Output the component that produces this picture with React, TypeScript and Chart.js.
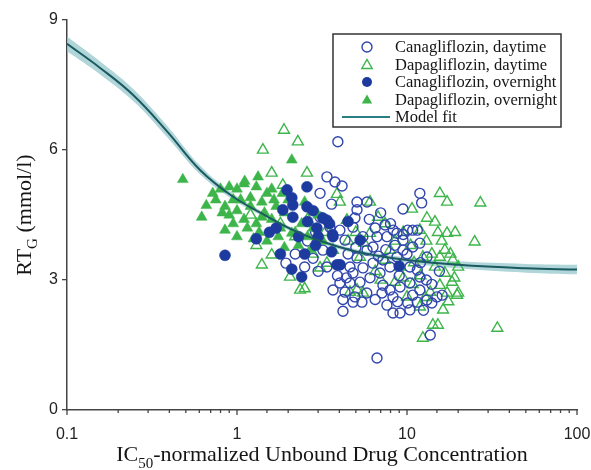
import React, { useEffect, useRef } from 'react';
import { Chart, registerables } from 'chart.js';
Chart.register(...registerables);

// ---- data ----
const xTickLabels = ['0.1', '1', '10', '100'];
const yTickValues = [0, 3, 6, 9];

const fitX = [0.1, 0.156, 0.245, 0.39, 0.606, 0.95, 1.5, 2.14, 3, 5, 10, 20, 50, 100];
const fitY = [8.45, 7.9, 7.27, 6.42, 5.54, 4.92, 4.47, 4.15, 3.92, 3.66, 3.46, 3.35, 3.27, 3.24];
const bandUpper = [8.62, 8.05, 7.41, 6.55, 5.64, 4.99, 4.52, 4.2, 3.97, 3.71, 3.52, 3.43, 3.37, 3.35];
const bandLower = [8.28, 7.75, 7.13, 6.29, 5.44, 4.85, 4.42, 4.1, 3.87, 3.61, 3.4, 3.27, 3.17, 3.13];

const canaNight: [number, number][] = [
  [0.85, 3.57], [1.3, 3.95], [1.55, 4.1], [1.8, 3.6], [2.1, 3.25], [2.4, 3.07], [1.97, 5.08], [2.58, 5.15],
  [2.1, 4.9], [2.13, 4.73], [2.58, 4.69], [2.8, 4.6], [3.2, 4.43], [3.5, 4.3], [3.65, 4.05], [2.95, 4.2],
  [2.6, 4.35], [2.13, 4.45], [1.86, 4.62], [5.3, 3.92], [3.0, 4.0], [3.38, 4.38], [3.67, 4.0], [4.03, 3.35],
  [3.87, 3.35], [3.6, 3.65], [9.0, 3.32], [2.3, 4.0], [1.7, 4.2], [2.9, 3.8], [4.5, 4.35], [2.5, 3.6],
];

const dapaNight: [number, number][] = [
  [0.48, 5.32], [0.62, 4.45], [0.66, 4.72], [0.85, 4.15], [0.72, 5.0], [0.8, 5.1], [0.9, 5.15], [0.95, 4.85],
  [1.0, 5.1], [1.1, 5.22], [1.2, 4.9], [1.3, 5.15], [1.4, 4.8], [1.5, 5.0], [0.85, 4.7], [0.9, 4.5],
  [1.0, 4.6], [1.1, 4.4], [1.2, 4.7], [1.3, 4.3], [1.45, 4.55], [1.6, 4.4], [1.7, 4.7], [1.8, 4.2],
  [1.9, 4.55], [2.1, 5.77], [2.2, 4.1], [2.4, 4.3], [2.6, 4.0], [1.5, 3.9], [1.75, 4.0], [1.9, 3.75],
  [2.3, 3.8], [2.8, 4.2], [3.0, 4.5], [3.2, 3.9], [2.1, 4.08], [1.0, 4.0], [1.15, 4.2], [1.25, 3.95],
  [1.6, 5.1], [1.85, 5.0], [2.5, 4.8], [0.75, 4.85], [0.82, 4.55], [0.95, 4.3], [1.35, 4.1], [2.7, 3.7],
  [1.05, 4.85], [1.65, 4.85], [2.0, 4.85], [1.4, 4.45], [1.33, 5.38], [1.11, 5.28],
];

const canaDay: [number, number][] = [
  [3.92, 6.19], [3.38, 5.38], [3.77, 5.26], [4.15, 5.17], [3.08, 5.0], [3.6, 4.75], [11.9, 5.0], [12.2, 4.78],
  [9.47, 4.64], [5.08, 4.8], [5.82, 4.8], [5.08, 4.62], [4.94, 4.43], [4.81, 4.22], [7.43, 4.27], [8.73, 4.08],
  [10.1, 4.15], [11.5, 4.15], [9.47, 3.92], [7.62, 4.0], [6.66, 4.0], [6.31, 3.76], [5.82, 3.69], [5.08, 3.51],
  [4.62, 3.3], [4.81, 3.16], [5.51, 3.28], [6.31, 3.39], [7.22, 3.46], [7.94, 3.3], [6.94, 3.16], [6.06, 3.05],
  [5.29, 2.95], [4.62, 2.93], [4.03, 2.93], [3.67, 2.77], [4.32, 2.72], [4.94, 2.61], [4.81, 2.49], [5.43, 2.49],
  [4.2, 2.28], [7.22, 2.88], [7.94, 2.77], [7.13, 2.7], [8.27, 2.61], [7.62, 2.42], [8.27, 2.24], [9.1, 2.24],
  [10.4, 2.31], [10.1, 2.47], [11.5, 2.49], [11.9, 2.77], [13.1, 2.54], [14.0, 2.47], [9.1, 2.84], [10.4, 2.93],
  [11.9, 3.07], [11.5, 3.23], [10.4, 3.3], [8.73, 3.53], [9.47, 3.69], [10.8, 3.76], [11.9, 3.85], [13.1, 3.53],
  [3.2, 3.69], [3.38, 3.3], [4.03, 3.35], [3.08, 4.45], [3.52, 4.22], [4.03, 4.15], [4.32, 3.92], [6.66, 1.2],
  [13.7, 1.73], [15.0, 2.61], [16.1, 2.65], [1.94, 3.39], [2.2, 3.6], [2.5, 3.3], [2.8, 3.5], [3.0, 3.2],
  [2.6, 3.9], [2.9, 4.1], [6.0, 4.4], [7.0, 4.55], [8.0, 4.3], [6.5, 4.2], [8.5, 3.8], [5.5, 4.0],
  [4.5, 3.6], [5.0, 3.75], [6.8, 3.55], [7.5, 3.7], [9.0, 3.1], [10, 3.6], [12, 3.4], [13, 3.0],
  [14, 2.9], [8.8, 2.5], [6.5, 2.55], [5.8, 2.7], [4.2, 2.55], [3.9, 3.1], [4.4, 3.05], [12.5, 2.3],
  [10.8, 2.65], [15.5, 3.2], [10.8, 4.15], [8.3, 4.15], [9.5, 4.05],
];

const dapaDay: [number, number][] = [
  [1.89, 6.46], [1.42, 6.0], [2.28, 6.19], [2.58, 5.47], [1.6, 5.47], [1.86, 5.19], [3.87, 4.98], [15.6, 5.0],
  [17.2, 4.8], [27, 4.78], [10.7, 4.64], [13.1, 4.43], [14.6, 4.34], [6.76, 4.45], [25, 3.88], [15.2, 4.1],
  [17.2, 4.08], [19.2, 4.1], [11.9, 4.15], [16.7, 3.69], [15.6, 3.53], [18.6, 3.46], [14.6, 3.3], [16.7, 3.16],
  [18.4, 2.95], [15.6, 2.88], [19.7, 2.65], [17.2, 2.7], [13.7, 2.72], [10, 2.61], [11.9, 2.38], [16.3, 2.31],
  [14.2, 1.96], [15.2, 1.96], [12.4, 1.66], [34, 1.89], [7.43, 4.3], [6.06, 4.08], [4.43, 4.38], [4.03, 4.8],
  [6.06, 4.8], [3.67, 3.69], [3.38, 3.39], [3.08, 3.28], [5.29, 3.53], [5.08, 2.77], [4.62, 2.72], [5.51, 2.7],
  [7.94, 3.69], [7.43, 3.46], [9.1, 3.3], [12.4, 3.53], [1.4, 3.35], [1.6, 3.58], [2.05, 3.07], [2.35, 2.77],
  [2.5, 2.8], [2.2, 4.0], [2.6, 4.4], [3.0, 3.9], [3.3, 4.1], [2.8, 3.6], [1.8, 4.3], [1.2, 4.5],
  [1.3, 3.8], [4.5, 3.9], [5.0, 4.1], [5.6, 3.85], [8.5, 3.9], [9.5, 4.1], [10.5, 3.8], [11, 3.4],
  [12, 3.1], [13, 3.9], [14, 3.6], [8.5, 2.95], [9.5, 3.05], [6.5, 3.2], [7, 3.0], [10.8, 2.9],
  [12.8, 2.6], [16, 3.9], [18, 3.6], [20, 3.3], [17.5, 2.5], [19, 3.05], [20, 2.7],
];

const legendLabels = [
  'Canagliflozin, daytime',
  'Dapagliflozin, daytime',
  'Canagliflozin, overnight',
  'Dapagliflozin, overnight',
  'Model fit',
];
const xTitleMain = 'IC';
const xTitleSub = '50';
const xTitleRest = '-normalized Unbound Drug Concentration';
const yTitleMain = 'RT';
const yTitleSub = 'G';
const yTitleRest = ' (mmol/l)';

// ---- styles ----
const BLUE = '#3045ad';
const BLUE_FILL = '#1d3b9f';
const GREEN = '#3db54a';
const FIT = '#1b5a60';
const FIT_LEGEND = '#2a7e84';
const BAND = 'rgba(150,200,206,0.75)';
const SERIF = '"Liberation Serif", "Times New Roman", serif';
const SANS = '"Liberation Sans", Arial, sans-serif';

const toPts = (a: [number, number][]) => a.map(([x, y]) => ({ x, y }));
const isPow10 = (v: number) => Math.abs(Math.log10(v) - Math.round(Math.log10(v))) < 1e-6;

function drawMarker(ctx: CanvasRenderingContext2D, kind: string, x: number, y: number, r: number, filled: boolean, color: string) {
  ctx.beginPath();
  if (kind === 'circle') {
    ctx.arc(x, y, r, 0, Math.PI * 2);
  } else {
    ctx.moveTo(x, y - r);
    ctx.lineTo(x + r * Math.sin((2 * Math.PI) / 3), y - r * Math.cos((2 * Math.PI) / 3));
    ctx.lineTo(x + r * Math.sin((4 * Math.PI) / 3), y - r * Math.cos((4 * Math.PI) / 3));
    ctx.closePath();
  }
  if (filled) {
    ctx.fillStyle = color;
    ctx.fill();
  } else {
    ctx.strokeStyle = color;
    ctx.lineWidth = 1.4;
    ctx.stroke();
  }
}

const decorPlugin = {
  id: 'decor',
  afterDraw(chart: any) {
    const ctx: CanvasRenderingContext2D = chart.ctx;
    const ca = chart.chartArea;
    const xs = chart.scales.x;
    ctx.save();
    // x tick marks (major longer)
    ctx.strokeStyle = '#444';
    ctx.lineWidth = 1.3;
    xs.ticks.forEach((t: any) => {
      const px = xs.getPixelForValue(t.value);
      const len = isPow10(t.value) ? 5 : 3;
      ctx.beginPath();
      ctx.moveTo(px, ca.bottom);
      ctx.lineTo(px, ca.bottom + len);
      ctx.stroke();
    });

    // x title
    const big = `22px ${SERIF}`;
    const small = `15px ${SERIF}`;
    ctx.fillStyle = '#151515';
    ctx.textAlign = 'left';
    ctx.textBaseline = 'alphabetic';
    ctx.font = big;
    const w1 = ctx.measureText(xTitleMain).width;
    const w3 = ctx.measureText(xTitleRest).width;
    ctx.font = small;
    const w2 = ctx.measureText(xTitleSub).width;
    let x0 = (ca.left + ca.right) / 2 - (w1 + w2 + w3) / 2;
    const base = ca.bottom + 51;
    ctx.font = big;
    ctx.fillText(xTitleMain, x0, base);
    ctx.font = small;
    ctx.fillText(xTitleSub, x0 + w1, base + 7);
    ctx.font = big;
    ctx.fillText(xTitleRest, x0 + w1 + w2, base);

    // y title (rotated)
    ctx.save();
    ctx.translate(31, (ca.top + ca.bottom) / 2);
    ctx.rotate(-Math.PI / 2);
    ctx.font = big;
    const v1 = ctx.measureText(yTitleMain).width;
    const v3 = ctx.measureText(yTitleRest).width;
    ctx.font = small;
    const v2 = ctx.measureText(yTitleSub).width;
    const y0 = -(v1 + v2 + v3) / 2;
    ctx.font = big;
    ctx.fillText(yTitleMain, y0, 0);
    ctx.font = small;
    ctx.fillText(yTitleSub, y0 + v1, 6);
    ctx.font = big;
    ctx.fillText(yTitleRest, y0 + v1 + v2, 0);
    ctx.restore();

    // legend
    const bw = 228, bh = 93;
    const bx = ca.right - 244, by = ca.top + 14;
    ctx.fillStyle = '#ffffff';
    ctx.fillRect(bx, by, bw, bh);
    ctx.strokeStyle = '#333';
    ctx.lineWidth = 1.5;
    ctx.strokeRect(bx, by, bw, bh);
    const kinds = [
      { k: 'circle', f: false, c: BLUE, r: 5 },
      { k: 'triangle', f: false, c: GREEN, r: 6 },
      { k: 'circle', f: true, c: BLUE_FILL, r: 5 },
      { k: 'triangle', f: true, c: GREEN, r: 6 },
      { k: 'line', f: false, c: FIT_LEGEND, r: 0 },
    ];
    ctx.font = `16.5px ${SERIF}`;
    ctx.textBaseline = 'middle';
    legendLabels.forEach((lab, i) => {
      const cy = by + 13 + i * 17.5;
      const m = kinds[i];
      if (m.k === 'line') {
        ctx.strokeStyle = m.c;
        ctx.lineWidth = 2;
        ctx.beginPath();
        ctx.moveTo(bx + 9, cy);
        ctx.lineTo(bx + 57, cy);
        ctx.stroke();
      } else {
        drawMarker(ctx, m.k, bx + 34, cy + (m.k === 'triangle' ? 1 : 0), m.r, m.f, m.c);
      }
      ctx.fillStyle = '#151515';
      ctx.fillText(lab, bx + 62, cy + 1);
    });
    ctx.restore();
  },
};

export default function App() {
  const ref = useRef<HTMLCanvasElement>(null);
  useEffect(() => {
    if (!ref.current) return;
    const fit = fitX.map((x, i) => ({ x, y: fitY[i] }));
    const up = fitX.map((x, i) => ({ x, y: bandUpper[i] }));
    const lo = fitX.map((x, i) => ({ x, y: bandLower[i] }));
    const chart = new Chart(ref.current, {
      type: 'scatter',
      data: {
        datasets: [
          { label: 'Model fit', type: 'line', data: fit, borderColor: FIT, borderWidth: 2, pointRadius: 0, tension: 0.4, fill: false } as any,
          { label: 'band upper', type: 'line', data: up, borderColor: 'transparent', borderWidth: 1, pointRadius: 0, tension: 0.4, fill: '+1', backgroundColor: BAND } as any,
          { label: 'band lower', type: 'line', data: lo, borderColor: 'transparent', borderWidth: 1, pointRadius: 0, tension: 0.4, fill: false } as any,
          { label: 'Canagliflozin, overnight', data: toPts(canaNight), pointStyle: 'circle', pointRadius: 5.5, backgroundColor: BLUE_FILL, borderColor: BLUE_FILL, borderWidth: 0.5 },
          { label: 'Dapagliflozin, overnight', data: toPts(dapaNight), pointStyle: 'triangle', pointRadius: 6.3, backgroundColor: GREEN, borderColor: GREEN, borderWidth: 0.5 },
          { label: 'Canagliflozin, daytime', data: toPts(canaDay), pointStyle: 'circle', pointRadius: 5, backgroundColor: 'rgba(0,0,0,0)', borderColor: BLUE, borderWidth: 1.4 },
          { label: 'Dapagliflozin, daytime', data: toPts(dapaDay), pointStyle: 'triangle', pointRadius: 6.3, backgroundColor: 'rgba(0,0,0,0)', borderColor: GREEN, borderWidth: 1.4 },
        ],
      },
      options: {
        responsive: false,
        animation: false,
        devicePixelRatio: 1,
        layout: { padding: { top: 20, right: 14, left: 0, bottom: 0 } },
        plugins: {
          legend: { display: false },
          tooltip: { enabled: false },
          filler: { drawTime: 'beforeDatasetsDraw' },
        },
        scales: {
          x: {
            type: 'logarithmic',
            min: 0.1,
            max: 100,
            grid: { display: false },
            border: { display: true, color: '#444', width: 1.5 },
            ticks: {
              autoSkip: false,
              maxRotation: 0,
              padding: 7,
              color: '#222',
              font: { family: SANS, size: 16 },
              callback: (v: any) => {
                const n = Number(v);
                if (!isPow10(n)) return '';
                const idx = Math.round(Math.log10(n)) + 1;
                return xTickLabels[idx] ?? '';
              },
            },
            afterFit: (s: any) => { s.height = 60; s.paddingLeft = 0; s.paddingRight = 0; },
          },
          y: {
            min: 0,
            max: 9,
            afterBuildTicks: (s: any) => { s.ticks = yTickValues.map((v) => ({ value: v })); },
            grid: { display: true, drawOnChartArea: false, drawTicks: true, tickLength: 5, color: '#444', lineWidth: 1.3 },
            border: { display: true, color: '#444', width: 1.5 },
            ticks: { padding: 4, color: '#222', font: { family: SANS, size: 16 } },
            afterFit: (s: any) => { s.width = 67; s.paddingTop = 0; s.paddingBottom = 0; },
          },
        },
      },
      plugins: [decorPlugin],
    });
    return () => chart.destroy();
  }, []);
  return (
    <div style={{ position: 'fixed', left: 0, top: 0, width: 591, height: 470, background: '#fff' }}>
      <canvas ref={ref} width={591} height={470} style={{ display: 'block' }} />
    </div>
  );
}
